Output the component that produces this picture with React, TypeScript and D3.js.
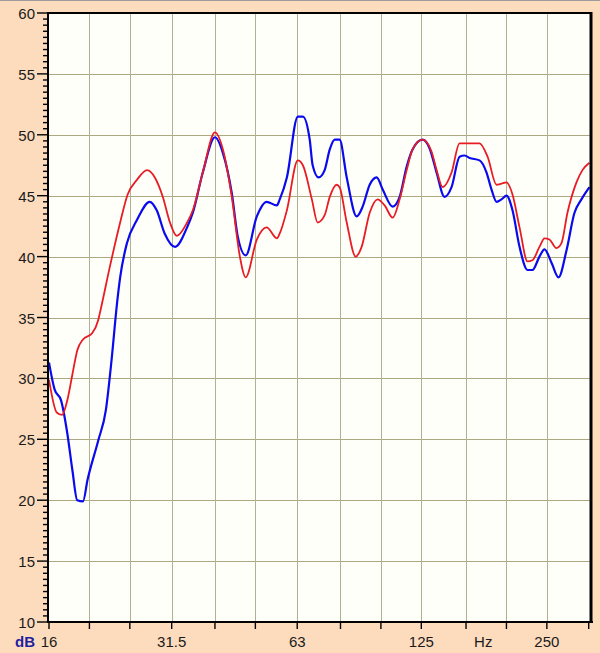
import React from "react";
import * as d3 from "d3";

// ---- data ----
const blueFreq = [16.0,16.5,17.1,17.7,18.2,18.7,19.3,19.8,21.0,21.9,22.6,23.3,23.7,24.6,26.0,27.9,29.0,30.3,32.1,34.3,35.4,37.4,40.0,41.8,43.9,45.4,47.4,50.4,53.2,56.3,57.2,59.5,63.2,65.0,67.5,68.6,70.9,73.3,75.4,77.5,79.6,82.8,87.5,90.4,94.0,97.7,101.0,106.7,110.9,115.3,119.1,125.9,130.8,136.0,142.1,147.7,154.4,158.7,163.2,172.4,179.2,184.2,189.4,194.6,200.1,206.8,215.0,224.7,230.9,240.0,246.8,256.5,266.6,278.6,291.2,302.6,316.3];
const blueDb = [31.3,29.1,28.2,25.5,22.5,20.0,19.9,21.7,24.9,27.4,31.5,36.2,38.3,41.1,43.0,44.5,43.8,41.9,40.8,42.4,43.6,46.9,49.8,48.5,45.2,41.6,40.1,43.3,44.5,44.2,44.7,46.5,51.5,51.5,49.6,47.5,46.5,47.1,48.8,49.6,49.6,46.5,43.3,44.1,45.9,46.5,45.5,44.1,44.9,47.4,48.8,49.6,48.9,46.9,44.9,45.7,48.2,48.3,48.1,47.9,46.9,45.5,44.5,44.7,45.0,43.8,40.8,38.9,38.9,40.0,40.6,39.5,38.3,40.5,43.6,44.7,45.7];

const redFreq = [16.0,16.7,17.2,17.7,18.2,18.7,19.3,20.3,21.0,21.2,22.4,23.7,24.7,26.0,27.5,28.7,30.0,31.2,32.4,34.3,35.4,37.4,40.0,41.8,43.9,45.9,47.4,50.4,53.2,56.3,57.2,59.5,63.2,65.0,68.3,70.5,73.3,75.4,78.3,79.6,82.8,87.0,89.9,94.0,98.2,102.1,106.7,110.9,115.3,119.1,125.9,132.3,136.0,140.6,147.7,154.4,160.5,172.4,180.2,189.4,194.6,200.1,206.8,215.0,224.7,230.9,240.0,246.8,253.6,263.6,271.0,280.1,294.4,304.3,316.3];
const redDb = [29.9,27.2,27.0,28.2,30.3,32.3,33.2,33.7,34.8,35.4,39.2,42.8,45.1,46.3,47.1,46.5,44.9,42.8,41.7,42.8,43.8,46.9,50.2,48.8,44.9,40.0,38.3,41.4,42.4,41.5,41.9,43.8,47.9,47.5,44.7,42.8,43.4,44.9,45.9,45.7,42.8,40.0,40.8,43.6,44.7,44.2,43.2,44.7,47.1,48.8,49.6,48.6,47.1,45.7,46.9,49.3,49.3,49.3,48.2,45.9,46.0,46.1,45.1,42.4,39.6,39.7,40.8,41.5,41.4,40.7,41.1,43.6,46.1,47.1,47.7];

const xGridFreqs = [20, 25, 31.5, 40, 50, 63, 80, 100, 125, 160, 200, 250, 315];
const xLabelFreqs = [16, 31.5, 63, 125, 250];
const xLabelTexts = ["16", "31.5", "63", "125", "250"];
const yMajorTicks = [10, 15, 20, 25, 30, 35, 40, 45, 50, 55, 60];
const unitX = "Hz";
const unitY = "dB";
const unitXFreq = 176;

const W = 600;
const H = 653;
const L = 49, R = 591, T = 13, B = 622;

export default function App() {
  const x = d3.scaleLog().domain([16, 319]).range([L, R]);
  const y = d3.scaleLinear().domain([10, 60]).range([B, T]);
  const minorTicks = d3.range(10, 60.01, 0.5);

  const line = d3
    .line<[number, number]>()
    .x((d) => x(d[0]))
    .y((d) => y(d[1]))
    .curve(d3.curveMonotoneX);

  const blue = blueFreq.map((f, i) => [f, blueDb[i]] as [number, number]);
  const red = redFreq.map((f, i) => [f, redDb[i]] as [number, number]);

  const font = "'Liberation Sans', Arial, sans-serif";

  return (
    <svg
      width={W}
      height={H}
      style={{ position: "absolute", left: 0, top: 0 }}
      fontFamily={font}
    >
      <rect x={0} y={0} width={W} height={H} fill="#FDDCBE" />
      <line x1={0} x2={W} y1={0.5} y2={0.5} stroke="#9C9C9C" />
      <rect x={L} y={T} width={R - L} height={B - T} fill="#FFFFFA" />

      {/* grid */}
      {yMajorTicks.slice(1, -1).map((v) => (
        <line key={"h" + v} x1={L} x2={R} y1={Math.round(y(v)) + 0.5} y2={Math.round(y(v)) + 0.5} stroke="#ACA982" strokeWidth={1} />
      ))}
      {xGridFreqs.slice(0, -1).map((f) => (
        <line key={"v" + f} x1={Math.round(x(f)) + 0.5} x2={Math.round(x(f)) + 0.5} y1={T} y2={B} stroke="#B2B092" strokeWidth={1} />
      ))}

      {/* curves */}
      <path d={line(blue) || ""} fill="none" stroke="#0A0AEE" strokeWidth={2.2} strokeLinejoin="round" />
      <path d={line(red) || ""} fill="none" stroke="#E81C24" strokeWidth={1.8} strokeLinejoin="round" />

      {/* frame */}
      <line x1={L} x2={R + 1} y1={T} y2={T} stroke="#000" strokeWidth={2} />
      <line x1={L - 1} x2={L - 1} y1={T - 1} y2={B + 1} stroke="#000" strokeWidth={2} />
      <line x1={L - 2} x2={R + 2} y1={B} y2={B} stroke="#000" strokeWidth={2} />
      <line x1={R} x2={R} y1={T - 1} y2={B + 1} stroke="#000" strokeWidth={3} />

      {/* y ticks */}
      {minorTicks.map((v) => (
        <line key={"m" + v} x1={v % 5 === 0 ? 37 : 43} x2={L - 1} y1={y(v)} y2={y(v)} stroke="#000" strokeWidth={1.4} />
      ))}
      {yMajorTicks.map((v) => (
        <text key={"yl" + v} x={35} y={y(v) + 0.5} textAnchor="end" dominantBaseline="central" fontSize={15} fill="#1A1A1A">
          {v}
        </text>
      ))}

      {/* x ticks */}
      {[16, ...xGridFreqs].map((f) => (
        <line key={"xt" + f} x1={x(f)} x2={x(f)} y1={B} y2={B + 7} stroke="#000" strokeWidth={1.4} />
      ))}
      {xLabelFreqs.map((f, i) => (
        <text key={"xl" + f} x={x(f)} y={647} textAnchor="middle" fontSize={15} fill="#1A1A1A">
          {xLabelTexts[i]}
        </text>
      ))}
      <text x={x(unitXFreq)} y={647} textAnchor="middle" fontSize={15} fill="#1A1A1A">
        {unitX}
      </text>
      <text x={15} y={647} fontSize={15} fontWeight="bold" fill="#1E1EA0">
        {unitY}
      </text>
    </svg>
  );
}
